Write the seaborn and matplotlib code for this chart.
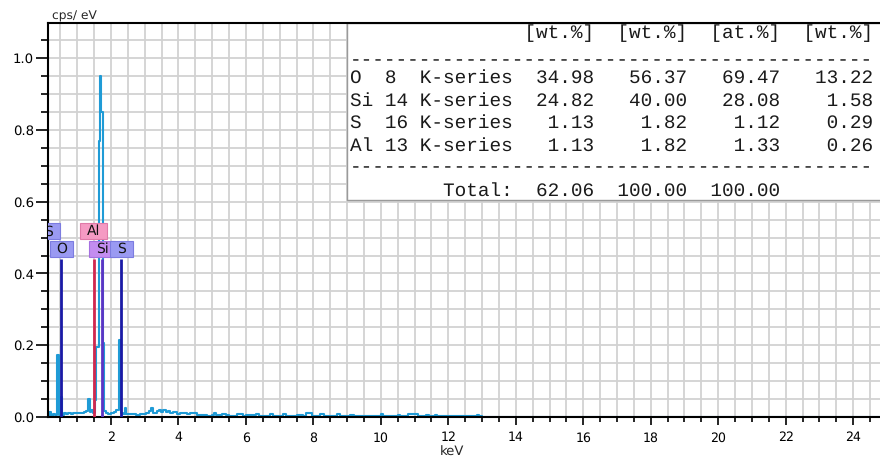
import numpy as np
import pandas as pd
import matplotlib
matplotlib.use("Agg")
import matplotlib.pyplot as plt
import matplotlib.patches as mpatches
import seaborn as sns

# ---------------- EDX spectrum (keV, cps/eV) ----------------
energy_kev = [0.13, 0.16, 0.21, 0.27, 0.33, 0.40, 0.45, 0.52, 0.56, 0.60,
              0.66, 0.72, 0.80, 0.88, 0.96, 1.04, 1.12, 1.20, 1.26, 1.32,
              1.37, 1.42, 1.47, 1.52, 1.57, 1.64, 1.66, 1.70, 1.75, 1.80,
              1.86, 1.92, 2.00, 2.08, 2.16, 2.23, 2.30, 2.36, 2.41, 2.46,
              2.55, 2.65, 2.75, 2.85, 2.95, 3.05, 3.14, 3.20, 3.26, 3.35,
              3.42, 3.48, 3.55, 3.62, 3.68, 3.75, 3.85, 3.95, 4.05, 4.15,
              4.25, 4.35, 4.45, 4.55, 4.70, 4.85, 5.00, 5.06, 5.12, 5.30,
              5.40, 5.50, 5.75, 5.90, 6.00, 6.30, 6.40, 6.70, 6.80, 7.10,
              7.20, 7.50, 7.70, 7.78, 7.95, 8.20, 8.30, 8.70, 8.80, 9.10,
              9.20, 9.60, 10.00, 10.06, 10.50, 10.56, 10.80, 11.10, 11.35,
              11.42, 11.60, 11.66, 12.30, 12.85, 12.91, 13.00, 25.30]
intensity = [0.004, 0.014, 0.004, 0.008, 0.005, 0.173, 0.006, 0.056, 0.006, 0.010,
             0.008, 0.011, 0.009, 0.011, 0.010, 0.012, 0.011, 0.013, 0.018, 0.050,
             0.014, 0.020, 0.010, 0.047, 0.194, 0.770, 0.950, 0.850, 0.205, 0.018,
             0.010, 0.007, 0.010, 0.013, 0.020, 0.215, 0.012, 0.008, 0.026, 0.007,
             0.009, 0.008, 0.006, 0.009, 0.008, 0.012, 0.018, 0.024, 0.012, 0.016,
             0.019, 0.015, 0.020, 0.013, 0.017, 0.010, 0.013, 0.008, 0.011, 0.010,
             0.007, 0.010, 0.011, 0.005, 0.006, 0.004, 0.006, 0.011, 0.005, 0.008,
             0.005, 0.004, 0.008, 0.004, 0.005, 0.008, 0.004, 0.007, 0.004, 0.008,
             0.004, 0.005, 0.004, 0.012, 0.004, 0.007, 0.004, 0.007, 0.003, 0.006,
             0.003, 0.004, 0.007, 0.003, 0.006, 0.003, 0.0085, 0.004, 0.006,
             0.003, 0.006, 0.003, 0.003, 0.006, 0.002, 0.0, 0.0]

# ---------------- identified lines ----------------
line_elements = ["O", "Al", "Si", "S"]
line_energy = [0.525, 1.486, 1.740, 2.307]
line_top = [0.44, 0.44, 0.44, 0.44]
line_colors = ["#1a1aa6", "#d0284f", "#5b34c4", "#1a1aa6"]

label_text = ["S", "O", "Al", "Si", "S"]
label_energy = [0.149, 0.525, 1.486, 1.740, 2.307]
label_row = [1, 0, 1, 0, 0]
label_face = ["#9a9af2", "#9a9af2", "#f59ac3", "#c38df0", "#9a9af2"]
label_edge = ["#7c7ce0", "#7c7ce0", "#e07aa8", "#a670e0", "#7c7ce0"]

# ---------------- quantification table ----------------
tab_elements = ["O", "Si", "S", "Al"]
tab_z = [8, 14, 16, 13]
tab_series = ["K-series", "K-series", "K-series", "K-series"]
unn_wt = [34.98, 24.82, 1.13, 1.13]
norm_wt = [56.37, 40.00, 1.82, 1.82]
norm_at = [69.47, 28.08, 1.12, 1.33]
err_wt = [13.22, 1.58, 0.29, 0.26]
totals = [62.06, 100.00, 100.00]
units = ["[wt.%]", "[wt.%]", "[at.%]", "[wt.%]"]

# ---------------- figure ----------------
W, H = 880, 459
sns.set_style("white")
plt.rcParams["font.family"] = ["DejaVu Sans"]
plt.rcParams["text.hinting"] = "no_hinting"

fig = plt.figure(figsize=(W / 100, H / 100), dpi=100)
fig.patch.set_facecolor("white")

ax_l, ax_r, ax_t, ax_b = 48, 893.6, 23.3, 417
ax = fig.add_axes([ax_l / W, 1 - ax_b / H, (ax_r - ax_l) / W, (ax_b - ax_t) / H])
ax.set_facecolor("white")

df = pd.DataFrame({"keV": energy_kev, "cps": intensity})
sns.lineplot(data=df, x="keV", y="cps", ax=ax, color="#1f9bd6", linewidth=1.5,
             drawstyle="steps-post", estimator=None, sort=False, zorder=2)

# line markers
ax.vlines(line_energy, 0, line_top, colors=line_colors, linewidth=2.0, zorder=3)

# element label boxes
box_h = 0.044
row_y = [0.447, 0.497]
for txt, e, r, fc, ec in zip(label_text, label_energy, label_row, label_face, label_edge):
    w = 0.78 if len(txt) > 1 else 0.68
    y0 = row_y[r]
    rect = mpatches.Rectangle((e - w / 2, y0), w, box_h, facecolor=fc,
                              edgecolor=ec, linewidth=0.8, zorder=4)
    ax.add_patch(rect)
    t = ax.text(e, y0 + box_h / 2 - 0.002, txt, ha="center", va="center",
                fontsize=10, color="#111111", zorder=5)
    t.set_clip_box(ax.bbox)
    t.set_clip_on(True)

ax.set_xlim(0.133, 25.2)
ax.set_ylim(0, 1.097)

ax.set_xticks(np.arange(2, 25, 2))
ax.set_xticks(np.arange(0.5, 25.5, 0.5), minor=True)
ax.set_yticks(np.arange(0, 1.01, 0.2))
ax.set_yticks(np.arange(0, 1.1, 0.05), minor=True)
ax.set_xticklabels([str(v) for v in range(2, 25, 2)])
ax.set_yticklabels([f"{v:.1f}" for v in np.arange(0, 1.01, 0.2)])

ax.set_axisbelow(True)
ax.grid(which="both", color="#d2d2d2", linewidth=1.3)

ax.tick_params(axis="x", which="major", direction="out", length=6, width=1.2,
               colors="black", labelsize=9, pad=4.5, bottom=True)
ax.tick_params(axis="x", which="minor", direction="out", length=3.8, width=1.2,
               colors="black", bottom=True)
ax.tick_params(axis="y", which="major", direction="out", length=8.5, width=1.2,
               colors="black", labelsize=9.5, pad=1.5, left=True)
ax.tick_params(axis="y", which="minor", direction="out", length=5, width=1.2,
               colors="black", left=True)

for side in ["left", "bottom", "top"]:
    ax.spines[side].set_color("black")
    ax.spines[side].set_linewidth(1.5)
ax.spines["right"].set_visible(False)

ax.set_xlabel("keV", fontsize=9.5)
ax.set_ylabel("")
ax.xaxis.set_label_coords((452 - ax_l) / (ax_r - ax_l), -(446 - ax_b) / (ax_b - ax_t))
ax.xaxis.label.set_va("top")

fig.text(52 / W, 1 - 20 / H, "cps/ eV", fontsize=8.8, ha="left", va="baseline")

# result table panel
tx0 = (346.7 - ax_l) / (ax_r - ax_l)
ty0 = (ax_b - 200) / (ax_b - ax_t)
panel = mpatches.Rectangle((tx0, ty0), 1.2 - tx0, 1.0 - ty0, transform=ax.transAxes,
                           facecolor="white", edgecolor="#9a9a9a", linewidth=1.0,
                           zorder=1.5, clip_on=False)
ax.add_patch(panel)
ax.spines["top"].set_zorder(6)

header = " " * 15 + "  ".join(units)
rule = "-" * 45
rows = [f"{el:<3}{z:<3}{s} {a:>6.2f}{b:>8.2f}{c:>8.2f}{d:>8.2f}"
        for el, z, s, a, b, c, d in zip(tab_elements, tab_z, tab_series,
                                        unn_wt, norm_wt, norm_at, err_wt)]
total = " " * 8 + "Total: " + f"{totals[0]:>6.2f}{totals[1]:>8.2f}{totals[2]:>8.2f}"
lines = [header, rule] + rows + [rule, total]
baselines = [38.5, 65.5, 83.0, 105.5, 128.0, 150.5, 172.5, 196.0]
for s, yb in zip(lines, baselines):
    fig.text(350 / W, 1 - yb / H, s, family="Liberation Mono", fontsize=13.95,
             color="#1a1a1a", ha="left", va="baseline")

fig.savefig("out.png", dpi=100, facecolor="white")
